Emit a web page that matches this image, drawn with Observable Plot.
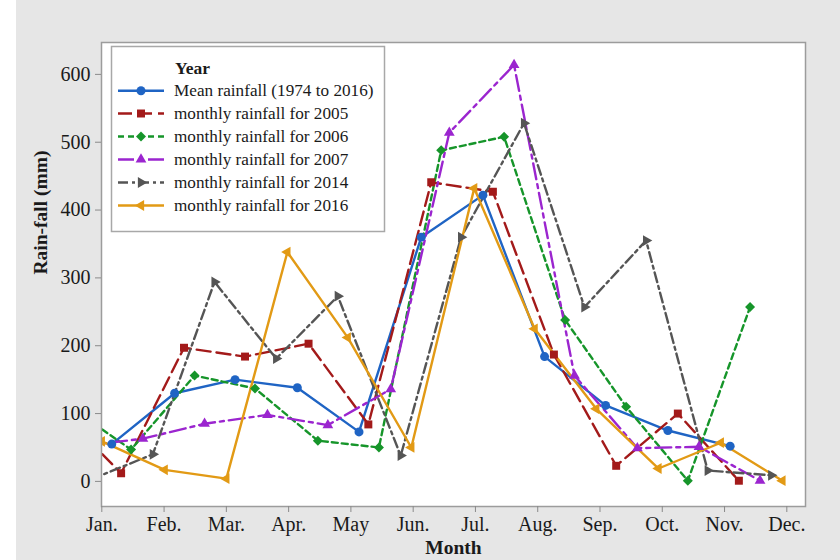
<!DOCTYPE html>
<html>
<head>
<meta charset="utf-8">
<script src="https://cdn.jsdelivr.net/npm/d3@7"></script>
<script src="https://cdn.jsdelivr.net/npm/@observablehq/plot@0.6"></script>
<style>
  html, body { margin: 0; padding: 0; background: #ffffff; width: 840px; height: 560px; overflow: hidden; }
  #panel { position: absolute; left: 16px; top: 0; width: 824px; height: 560px; background: #e6e6e6; }
  #chart { position: absolute; left: 0; top: 0; }
  #legend { position: absolute; left: 0; top: 0; pointer-events: none; }
</style>
</head>
<body>
<div id="panel"></div>
<div id="chart"></div>
<svg id="legend" width="840" height="560"></svg>
<script>
// ---- data ----
const months = ["Jan.", "Feb.", "Mar.", "Apr.", "May", "Jun.", "Jul.", "Aug.", "Sep.", "Oct.", "Nov.", "Dec."];
const monthTicks = [1, 2, 3, 4, 5, 6, 7, 8, 9, 10, 11, 12];
const yTicks = [0, 100, 200, 300, 400, 500, 600];

const seriesNames = [
  "Mean rainfall (1974 to 2016)",
  "monthly rainfall for 2005",
  "monthly rainfall for 2006",
  "monthly rainfall for 2007",
  "monthly rainfall for 2014",
  "monthly rainfall for 2016"
];

const meanX    = [1.16, 2.17, 3.14, 4.14, 5.13, 6.13, 7.12, 8.11, 9.09, 10.09, 11.09];
const meanRain = [55, 130, 150, 138, 73, 360, 422, 184, 112, 75, 52];

const x2005    = [0.33, 1.31, 2.32, 3.30, 4.32, 5.28, 6.29, 7.28, 8.26, 9.26, 10.25, 11.23];
const rain2005 = [103, 12, 197, 184, 203, 84, 441, 427, 187, 23, 100, 1];

const x2006    = [0.48, 1.47, 2.49, 3.46, 4.47, 5.45, 6.45, 7.46, 8.44, 9.42, 10.41, 11.41];
const rain2006 = [110, 47, 156, 137, 60, 50, 488, 508, 238, 110, 1, 257];

const x2007    = [0.67, 1.66, 2.65, 3.66, 4.63, 5.64, 6.58, 7.62, 8.59, 9.60, 10.59, 11.57];
const rain2007 = [52, 63, 85, 98, 83, 136, 514, 614, 156, 49, 51, 1];

const x2014    = [0.83, 1.82, 2.81, 3.80, 4.79, 5.80, 6.77, 7.78, 8.75, 9.74, 10.73, 11.75];
const rain2014 = [3, 40, 294, 181, 273, 38, 360, 528, 257, 355, 16, 9];

const x2016    = [1.00, 2.01, 3.00, 3.98, 4.95, 5.97, 6.98, 7.95, 8.94, 9.94, 10.94, 11.93];
const rain2016 = [59, 17, 4, 338, 212, 50, 432, 225, 107, 19, 57, 1];

// ---- styles ----
const styles = [
  {color: "#1f64c4", dash: null,             symbol: "circle",   rotate: 0,   r: 4.5},
  {color: "#a31a1a", dash: "14,6",           symbol: "square",   rotate: 0,   r: 4.5},
  {color: "#16952a", dash: "6,4",            symbol: "diamond2", rotate: 0,   r: 4.5},
  {color: "#9b25cf", dash: "16,5,4,5",       symbol: "triangle", rotate: 0,   r: 4},
  {color: "#555555", dash: "10,4,3,4",       symbol: "triangle", rotate: 90,  r: 4},
  {color: "#e29a15", dash: null,             symbol: "triangle", rotate: -90, r: 4}
];

const xs = [meanX, x2005, x2006, x2007, x2014, x2016];
const ys = [meanRain, rain2005, rain2006, rain2007, rain2014, rain2016];
const tables = xs.map((xa, i) => xa.map((x, j) => ({series: seriesNames[i], x, y: ys[i][j]})));

const serif = "'Liberation Serif', 'Times New Roman', serif";
const marks = [Plot.frame({fill: "white"})];
tables.forEach((t, i) => {
  const s = styles[i];
  marks.push(Plot.line(t, {x: "x", y: "y", stroke: s.color, strokeWidth: 2.4,
    strokeDasharray: s.dash, clip: true}));
});
tables.forEach((t, i) => {
  const s = styles[i];
  marks.push(Plot.dot(t, {x: "x", y: "y", symbol: s.symbol, fill: s.color, stroke: "none",
    r: s.r, rotate: s.rotate, clip: true}));
});
marks.push(
  Plot.frame({stroke: "#9c9c9c", strokeWidth: 1.5}),
  Plot.axisX({ticks: monthTicks, tickFormat: (d) => months[d - 1], tickSize: 6, tickPadding: 4,
    label: null, fontSize: 20, stroke: "#8a8a8a"}),
  Plot.axisY({ticks: yTicks, tickSize: 6, tickPadding: 5, label: null, fontSize: 20, stroke: "#8a8a8a"}),
  Plot.text(["Rain-fall (mm)"], {frameAnchor: "left", dx: -61, rotate: -90, fontWeight: "bold",
    fontSize: 19.5, fill: "#1a1a1a"}),
  Plot.text(["Month"], {frameAnchor: "bottom", dy: 47, fontWeight: "bold", fontSize: 19.5, fill: "#1a1a1a"})
);

const chart = Plot.plot({
  width: 840,
  height: 560,
  marginLeft: 101,
  marginRight: 35,
  marginTop: 42,
  marginBottom: 54,
  x: {domain: [0.995, 12.3]},
  y: {domain: [-37, 647]},
  style: {background: "transparent", fontFamily: serif, color: "#1a1a1a", overflow: "visible"},
  marks
});
document.getElementById("chart").appendChild(chart);

// ---- legend ----
const lg = d3.select("#legend");
lg.append("rect").attr("x", 111.5).attr("y", 46.5).attr("width", 273).attr("height", 185)
  .attr("fill", "white").attr("stroke", "#a8a8a8").attr("stroke-width", 1.5);
lg.append("text").attr("x", 175).attr("y", 68).attr("dominant-baseline", "central")
  .attr("font-family", serif).attr("font-size", 17.5).attr("font-weight", "bold")
  .attr("fill", "#1a1a1a").text("Year");
const symMap = {circle: d3.symbolCircle, square: d3.symbolSquare, diamond2: d3.symbolDiamond2, triangle: d3.symbolTriangle};
const rowY = [90.7, 113.5, 136.5, 159.5, 182.5, 205.5];
seriesNames.forEach((name, i) => {
  const s = styles[i];
  const y = rowY[i];
  lg.append("line").attr("x1", 118).attr("x2", 164).attr("y1", y).attr("y2", y)
    .attr("stroke", s.color).attr("stroke-width", 2.4).attr("stroke-dasharray", s.dash);
  lg.append("path").attr("d", d3.symbol(symMap[s.symbol], Math.PI * s.r * s.r)())
    .attr("transform", `translate(141,${y}) rotate(${s.rotate})`).attr("fill", s.color);
  lg.append("text").attr("x", 174).attr("y", y).attr("dominant-baseline", "central")
    .attr("font-family", serif).attr("font-size", 17.2).attr("fill", "#1a1a1a").text(name);
});
</script>
</body>
</html>
